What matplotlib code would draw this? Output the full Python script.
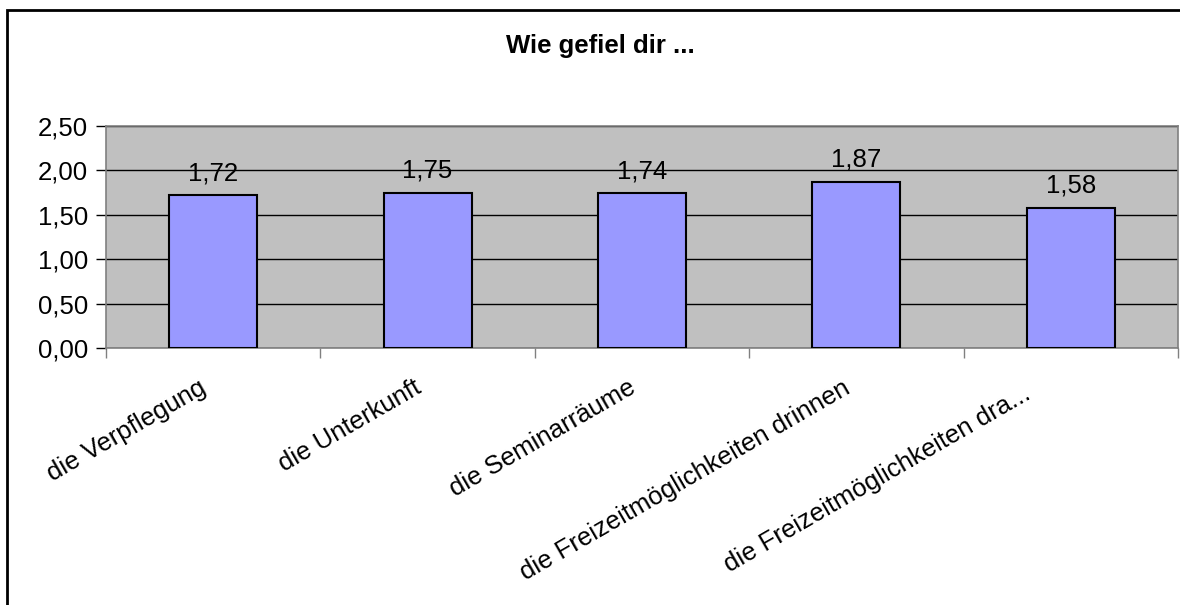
import matplotlib

matplotlib.use("Agg")
import matplotlib.pyplot as plt
from matplotlib.patches import Rectangle
import numpy as np

# --------------------------------------------------
# data
# --------------------------------------------------
categories = [
    "die Verpflegung",
    "die Unterkunft",
    "die Seminarräume",
    "die Freizeitmöglichkeiten drinnen",
    "die Freizeitmöglichkeiten dra...",
]
values = [1.72, 1.75, 1.74, 1.87, 1.58]
y_ticks = [0.0, 0.5, 1.0, 1.5, 2.0, 2.5]
title = "Wie gefiel dir ..."

FS = 18.5
plt.rcParams.update({
    "font.family": ["Liberation Sans", "DejaVu Sans"],
    "font.size": FS,
})

W, H = 1180, 605
fig = plt.figure(figsize=(W / 100, H / 100), dpi=100)
ax = fig.add_axes([106 / W, 1 - 348 / H, (1178 - 106) / W, (348 - 126) / H])

# plot area
ax.set_facecolor("#C0C0C0")
x = np.arange(len(categories))
ax.bar(x, values, width=0.41, color="#9999FF", edgecolor="black", lw=1.5, zorder=3)

for xi, v in zip(x, values):
    ax.annotate(f"{v:.2f}".replace(".", ","), (xi, v), xytext=(0, 10),
                textcoords="offset pixels", ha="center", va="bottom",
                fontsize=FS, zorder=4)

# axes
ax.set_xlim(-0.5, len(categories) - 0.5)
ax.set_ylim(0, 2.5)
ax.set_yticks(y_ticks)
ax.set_yticklabels([f"{t:.2f}".replace(".", ",") for t in y_ticks])
ax.yaxis.grid(True, color="black", lw=1.0, zorder=1)
ax.set_axisbelow(True)

ax.set_xticks(np.arange(-0.5, len(categories) + 0.5, 1.0))
ax.set_xticklabels([])
ax.tick_params(axis="x", length=7, color="#808080", width=1)
ax.tick_params(axis="y", length=7, color="black", width=1, pad=6)

# rotated category labels (last one sits a bit further left, as in Excel)
for i, (xi, cat) in enumerate(zip(x, categories)):
    off = (-39, -50) if i == len(categories) - 1 else (-5, -44)
    ax.annotate(cat, (xi, 0), xycoords=("data", "axes fraction"),
                xytext=off, textcoords="offset pixels", rotation=30,
                rotation_mode="anchor", ha="right", va="baseline",
                fontsize=FS, annotation_clip=False)

for s in ax.spines.values():
    s.set_color("#808080")
    s.set_linewidth(1.2)

# title
fig.text(600 / W, 1 - 53 / H, title, ha="center", va="baseline",
         fontsize=FS, fontweight="bold")

# outer chart border
fig.patches.append(Rectangle((7 / W, -0.1), 1.2, 1.1 - 10 / H,
                             transform=fig.transFigure, fill=False,
                             edgecolor="black", lw=2, clip_on=False))

fig.savefig("out.png", dpi=100)
plt.close(fig)
